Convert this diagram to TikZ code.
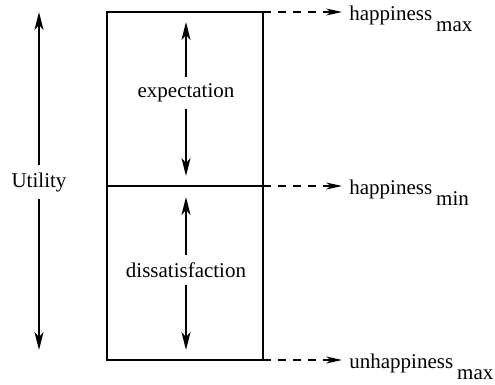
\documentclass[tikz,border=0pt]{standalone}
\usepackage{fontspec}
\setmainfont{Liberation Serif}
\usetikzlibrary{arrows.meta}
\newcommand{\lowidx}[1]{\hspace{2pt}\raisebox{-5.5pt}{#1}}

\begin{document}
\begin{tikzpicture}[x=0.5pt, y=-0.5pt,
    every node/.style={font=\fontsize{10.5}{12}\selectfont},
    frame/.style={line width=0.9pt},
    span/.style={-{Stealth[length=9pt, width=4.5pt, inset=2.5pt]}, line width=0.9pt},
    level/.style={dash pattern=on 4pt off 3.5pt, line width=0.6pt,
      -{Stealth[length=8pt, width=3.5pt, inset=2.5pt]}},
    lvl/.style={anchor=base west, inner xsep=3.5pt, inner ysep=0pt}
  ]
  \useasboundingbox (0,0) rectangle (495,385);

  % --- the box, split at the minimum happiness level ---------------------
  \coordinate (tl) at (107,12);
  \coordinate (tr) at (263,12);
  \coordinate (ml) at (107,186);
  \coordinate (mr) at (263,186);
  \coordinate (br) at (263,360);
  \draw[frame] (tl) rectangle (br);
  \draw[frame] (ml) -- (mr);

  % --- utility axis on the left -------------------------------------------
  \node (util) at (39,182) {Utility};
  \coordinate (utop) at (39,12);
  \coordinate (ubot) at (39,350);
  \draw[span] (util) -- (utop);
  \draw[span] (util) -- (ubot);

  % --- ranges inside the box ----------------------------------------------
  \node (expect) at (186,93) {expectation};
  \coordinate (etop) at (186,22);
  \coordinate (ebot) at (186,176);
  \draw[span] (expect) -- (etop);
  \draw[span] (expect) -- (ebot);

  \node (dissat) at (186,270) {dissatisfaction};
  \coordinate (dtop) at (186,197);
  \coordinate (dbot) at (186,350);
  \draw[span] (dissat) -- (dtop);
  \draw[span] (dissat) -- (dbot);

  % --- levels on the right ------------------------------------------------
  \node[lvl] (hmax) at (342,21)  {happiness\lowidx{max}};
  \node[lvl] (hmin) at (342,195) {happiness\lowidx{min}};
  \node[lvl] (umax) at (342,369) {unhappiness\lowidx{max}};
  \draw[level] (tr) -- (tr -| hmax.west);
  \draw[level] (mr) -- (mr -| hmin.west);
  \draw[level] (br) -- (br -| umax.west);

\end{tikzpicture}
\end{document}
